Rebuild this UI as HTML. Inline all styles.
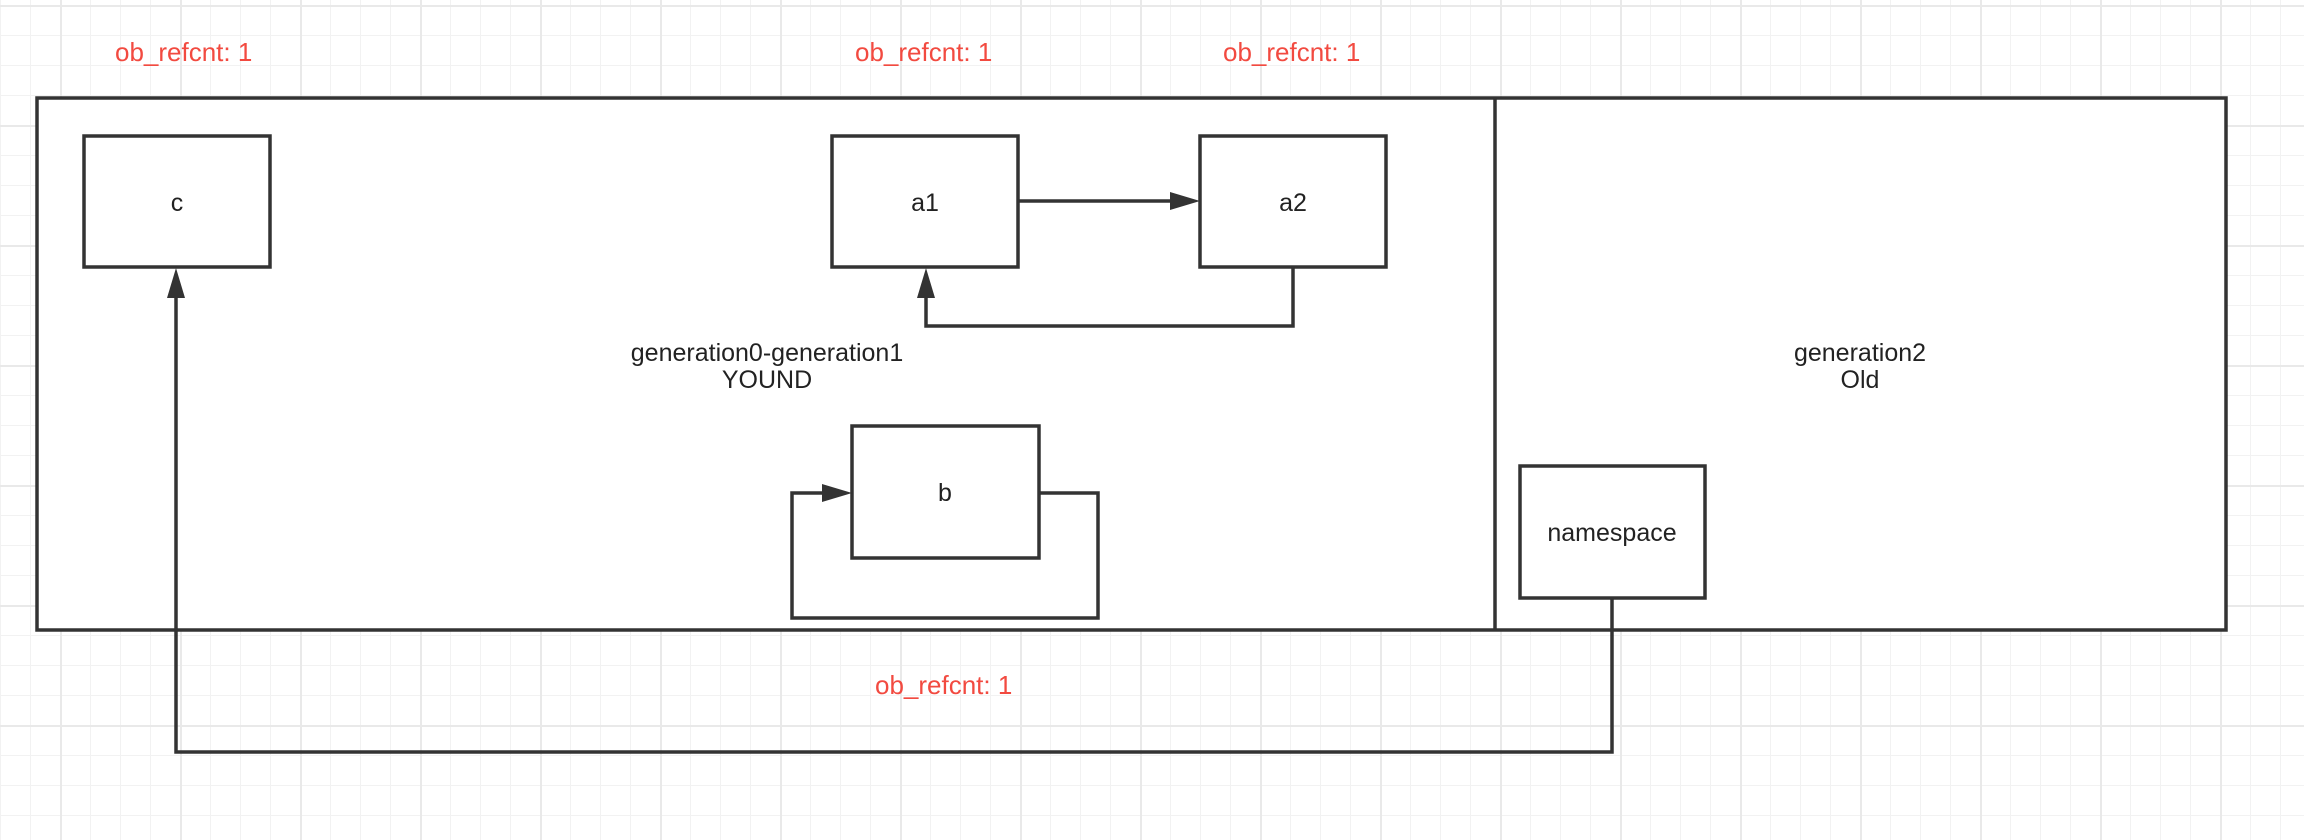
<!DOCTYPE html>
<html><head><meta charset="utf-8"><style>
html,body{margin:0;padding:0}
body{width:2304px;height:840px;overflow:hidden;background-color:#fff;
background-image:
linear-gradient(to right,#e9e9e9 2px,transparent 2px),
linear-gradient(to bottom,#e9e9e9 2px,transparent 2px),
linear-gradient(to right,#f2f2f2 1px,transparent 1px),
linear-gradient(to bottom,#f2f2f2 1px,transparent 1px);
background-size:120px 120px,120px 120px,30px 30px,30px 30px;
background-position:60px 5px,60px 5px,0px 5px,0px 5px;}
svg{position:absolute;left:0;top:0}
</style></head><body>
<svg width="2304" height="840" xmlns="http://www.w3.org/2000/svg" font-family="Liberation Sans, sans-serif">
<g fill="#fff" stroke="#333" stroke-width="3.5">
<rect x="37" y="98" width="2189" height="532"/>
<line x1="1495" y1="98" x2="1495" y2="630"/>
<rect x="84" y="136" width="186" height="131"/>
<rect x="832" y="136" width="186" height="131"/>
<rect x="1200" y="136" width="186" height="131"/>
<rect x="852" y="426" width="187" height="132"/>
<rect x="1520" y="466" width="185" height="132"/>
</g>
<g fill="none" stroke="#333" stroke-width="3.5">
<line x1="1018" y1="201" x2="1172" y2="201"/>
<polyline points="1293,267 1293,326 926,326 926,295"/>
<polyline points="1039,493 1098,493 1098,618 792,618 792,493 826,493"/>
<polyline points="1612,598 1612,752 176,752 176,295"/>
</g>
<g fill="#333">
<polygon points="1200,201 1170,192 1170,210"/>
<polygon points="926,268 917,298 935,298"/>
<polygon points="852,493 822,484 822,502"/>
<polygon points="176,268 167,298 185,298"/>
</g>
<g fill="#f24a40" font-size="26">
<text x="115" y="61">ob_refcnt: 1</text>
<text x="855" y="61">ob_refcnt: 1</text>
<text x="1223" y="61">ob_refcnt: 1</text>
<text x="875" y="694">ob_refcnt: 1</text>
</g>
<g fill="#222" font-size="25" text-anchor="middle">
<text x="177" y="211">c</text>
<text x="925" y="211">a1</text>
<text x="1293" y="211">a2</text>
<text x="945" y="501">b</text>
<text x="1612" y="541">namespace</text>
<text x="767" y="361">generation0-generation1</text>
<text x="767" y="388">YOUND</text>
<text x="1860" y="361">generation2</text>
<text x="1860" y="388">Old</text>
</g>
</svg>
</body></html>
